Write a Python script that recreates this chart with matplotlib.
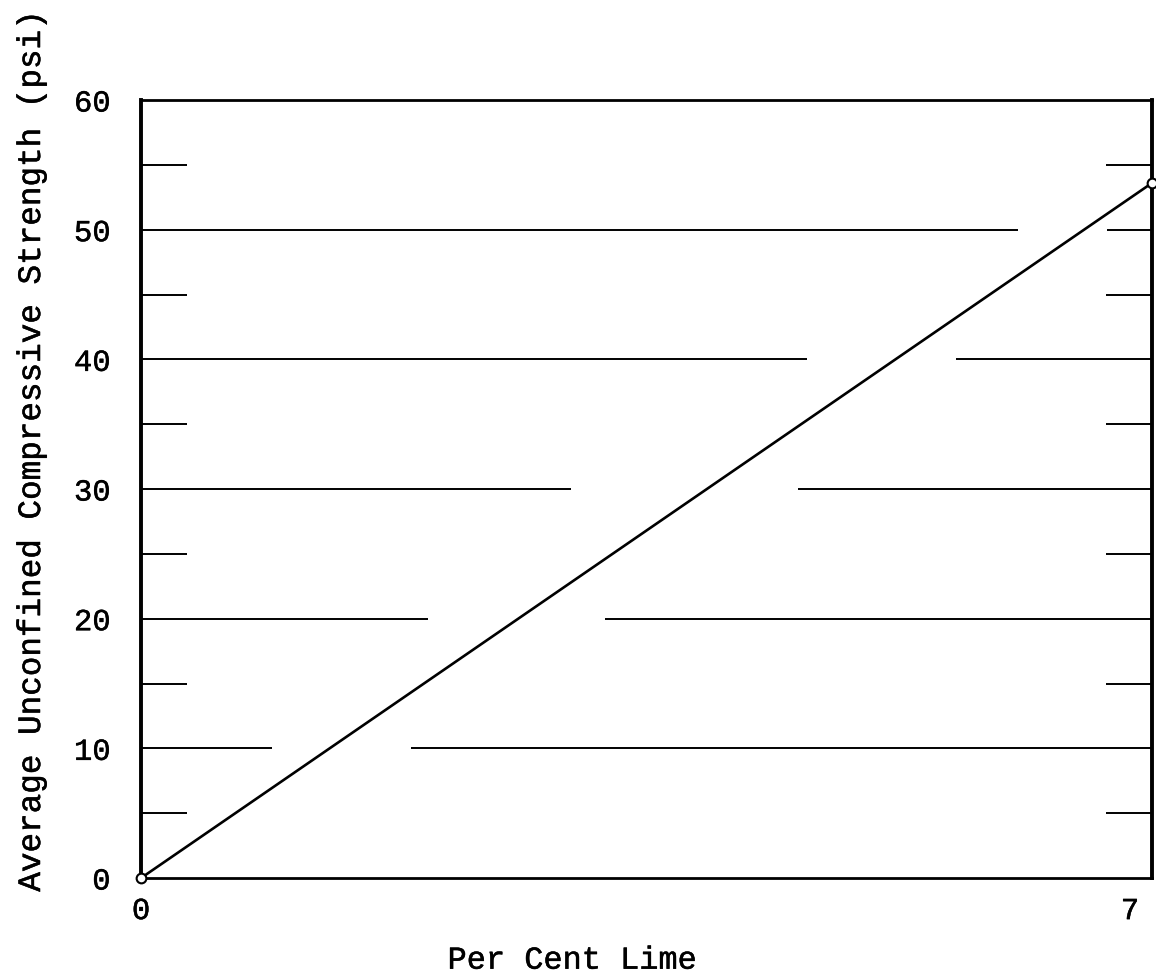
import matplotlib.pyplot as plt
import matplotlib.transforms as mtransforms
import matplotlib.patheffects as pe

# data
lime_pct = [0, 7]
strength_psi = [0, 53.6]

grid_levels = [10, 20, 30, 40, 50]
# x-range (per cent lime) where each grid line is broken around the curve
grid_gap_start = [0.91, 1.99, 2.98, 4.61, 6.07]
grid_gap_end = [1.87, 3.21, 4.55, 5.64, 6.69]

y_major = [0, 10, 20, 30, 40, 50, 60]
y_minor = [5, 15, 25, 35, 45, 55]
x_ticks = [0, 7]

plt.rcParams["font.family"] = ["Liberation Mono", "DejaVu Sans Mono"]

# typewriter text is a bit heavier than Courier
heavy = [pe.withStroke(linewidth=0.35, foreground="black")]

fig = plt.figure(figsize=(11.56, 9.78), dpi=100)
ax = fig.add_axes([0.122, 0.1012, 0.8745, 0.7955])

ax.set_xlim(0, 7)
ax.set_ylim(0, 60)

# broken horizontal grid lines
for lev, g0, g1 in zip(grid_levels, grid_gap_start, grid_gap_end):
    ax.hlines(lev, 0, g0, color="black", lw=1.4)
    ax.hlines(lev, g1, 7, color="black", lw=1.4)

ax.plot(lime_pct, strength_psi, color="black", lw=1.9, marker="o",
        markersize=7, markerfacecolor="white", markeredgewidth=1.5,
        clip_on=False, zorder=5)

ax.set_yticks(y_major)
ax.set_yticks(y_minor, minor=True)
ax.set_xticks(x_ticks)
ax.set_xticklabels([str(v) for v in x_ticks])
ax.tick_params(axis="y", which="major", length=0, pad=22, labelsize=22)
ax.tick_params(axis="y", which="minor", direction="in", length=33, width=1.4,
               left=True, right=True)
ax.tick_params(axis="x", which="major", length=0, pad=13, labelsize=22)

# the "7" sits a little left of the corner
lbl = ax.get_xticklabels()[-1]
lbl.set_transform(lbl.get_transform() + mtransforms.ScaledTranslation(-0.22, 0, fig.dpi_scale_trans))

for side in ["left", "right"]:
    ax.spines[side].set_linewidth(2.8)
for side in ["top", "bottom"]:
    ax.spines[side].set_linewidth(2.0)

ax.set_xlabel("Per Cent Lime", fontsize=23)
ax.set_ylabel("Average Unconfined Compressive Strength (psi)", fontsize=23.5)
ax.xaxis.set_label_coords(0.427, -0.087)
ax.yaxis.set_label_coords(-0.093, 0.55)

for t in ax.get_xticklabels() + ax.get_yticklabels() + [ax.xaxis.label, ax.yaxis.label]:
    t.set_path_effects(heavy)

fig.savefig("out.png", dpi=100)
